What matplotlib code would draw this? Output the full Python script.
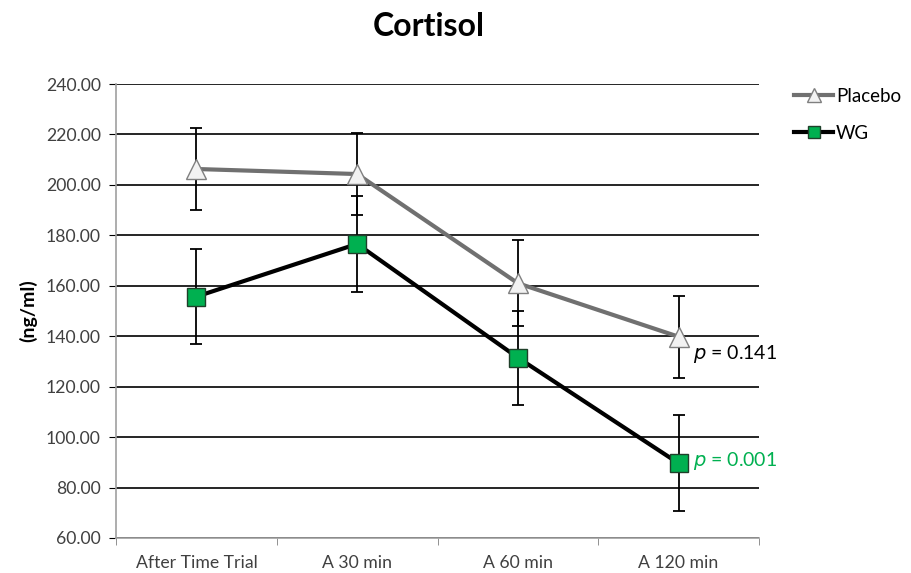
import matplotlib
matplotlib.use("Agg")
import matplotlib.pyplot as plt
import numpy as np

plt.rcParams['font.family'] = ['Lato', 'DejaVu Sans']

categories = ['After Time Trial', 'A 30 min', 'A 60 min', 'A 120 min']
placebo = [206.3, 204.3, 161.0, 139.8]
placebo_err = [16.3, 16.3, 17.0, 16.3]
wg = [155.7, 176.6, 131.5, 89.6]
wg_err = [18.8, 19.0, 18.6, 19.0]
p_labels = ['0.141', '0.001']

fig = plt.figure(figsize=(9.12, 5.73), dpi=100)
ax = fig.add_axes([116 / 912, 35 / 573, 643 / 912, 454 / 573])

x = np.arange(len(categories))

ax.errorbar(x, placebo, yerr=placebo_err, fmt='none', ecolor='black',
            elinewidth=1.3, capsize=4, capthick=1.3, zorder=3)
ax.errorbar(x, wg, yerr=wg_err, fmt='none', ecolor='black',
            elinewidth=1.3, capsize=4, capthick=1.3, zorder=3)

ax.plot(x, placebo, color='#707070', lw=3, marker='^', markersize=14,
        markerfacecolor='#F2F2F2', markeredgecolor='#7F7F7F', markeredgewidth=1,
        label='Placebo', zorder=4)
ax.plot(x, wg, color='black', lw=3, marker='s', markersize=13,
        markerfacecolor='#00B050', markeredgecolor='#1F3F2A', markeredgewidth=1,
        label='WG', zorder=4)

ax.set_xlim(-0.5, len(categories) - 0.5)
ax.set_ylim(60, 240)
ax.set_yticks(np.arange(60, 241, 20))
ax.set_yticklabels(['%.2f' % v for v in np.arange(60, 241, 20)])
ax.set_xticks(x)
ax.set_xticklabels(categories)
ax.set_xticks(np.arange(-0.5, len(categories)), minor=True)
ax.tick_params(axis='x', which='major', length=0, labelsize=12.7, colors='#404040', pad=12)
ax.tick_params(axis='x', which='minor', length=5, color='#808080', direction='out')
ax.tick_params(axis='y', length=5, labelsize=12.7, colors='#404040', pad=6)
ax.tick_params(axis='y', color='black')

ax.yaxis.grid(True, color='black', lw=1.2)
ax.set_axisbelow(True)
for side in ['top', 'right']:
    ax.spines[side].set_visible(False)
ax.spines['left'].set_color('#A0A0A0')
ax.spines['bottom'].set_color('#A0A0A0')
ax.spines['left'].set_linewidth(1.2)
ax.spines['bottom'].set_linewidth(1.2)

ax.set_ylabel('(ng/ml)', fontsize=14, fontweight='bold', labelpad=6)

ax.text(x[3] + 0.09, placebo[3] - 7, r'$p$ = ' + p_labels[0], fontsize=14,
        color='black', va='center', ha='left')
ax.text(x[3] + 0.09, wg[3] + 1, r'$p$ = ' + p_labels[1], fontsize=14,
        color='#00B050', va='center', ha='left')

fig.text(429 / 912, 1 - 27 / 573, 'Cortisol', fontsize=23, fontweight='bold',
         ha='center', va='center')

fig.legend(loc='upper left', bbox_to_anchor=(794 / 912, 1 - 88 / 573),
           frameon=False, fontsize=13.5, handlelength=2.1, handletextpad=0.15,
           labelspacing=1.05, borderpad=0, borderaxespad=0, markerscale=0.7)

fig.savefig('out.png', dpi=100)
